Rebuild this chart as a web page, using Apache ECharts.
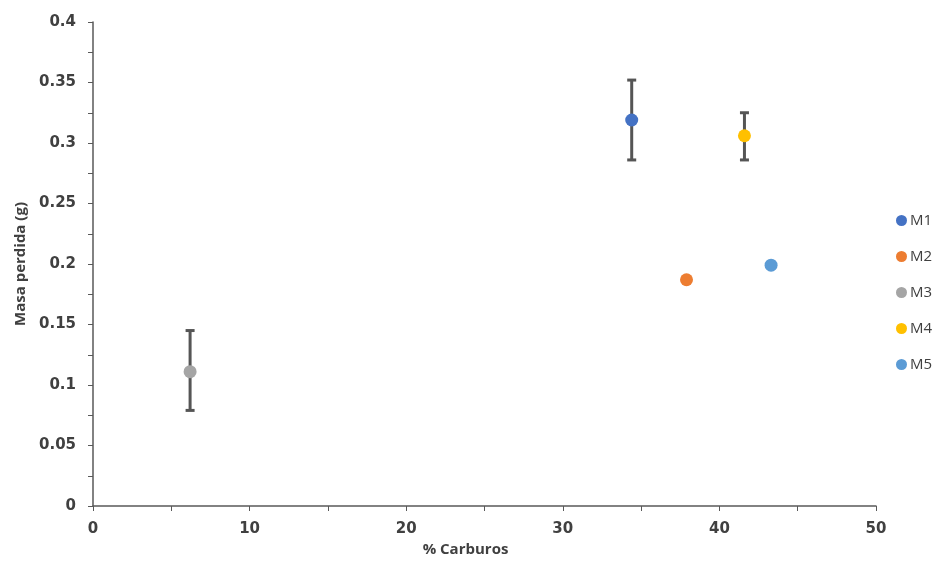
<!DOCTYPE html>
<html><head><meta charset="utf-8">
<script src="https://cdn.jsdelivr.net/npm/echarts@6/dist/echarts.min.js"></script>
<style>html,body{margin:0;padding:0;background:#fff}#c{width:936px;height:562px}</style>
</head><body><div id="c"></div>
<script>
const seriesNames = ['M1','M2','M3','M4','M5'];
const xValues = [34.4, 37.9, 6.2, 41.6, 43.3];
const yValues = [0.319, 0.187, 0.111, 0.306, 0.199];
const errLow = [0.286, null, 0.079, 0.286, null];
const errHigh = [0.352, null, 0.145, 0.325, null];
const colors = ['#4472C4','#ED7D31','#A5A5A5','#FFC000','#5B9BD5'];

const tickFont = '"DejaVu Sans", sans-serif';
const font = '"Open Sans", "Liberation Sans", sans-serif';
const axisColor = '#595959';
const textColor = '#404040';

const errData = [];
for (let i = 0; i < xValues.length; i++) {
  if (errLow[i] != null) errData.push([xValues[i], errLow[i], errHigh[i]]);
}

const series = seriesNames.map((n, i) => ({
  name: n, type: 'scatter', symbolSize: 13, z: 3,
  itemStyle: { color: colors[i], opacity: 1 },
  data: [[xValues[i], yValues[i]]]
}));
series.push({
  type: 'custom', z: 2, silent: true,
  data: errData,
  renderItem: function (params, api) {
    const x = api.value(0);
    const lo = api.coord([x, api.value(1)]);
    const hi = api.coord([x, api.value(2)]);
    const hw = 4.5;
    const style = { stroke: '#555555', lineWidth: 3 };
    return { type: 'group', children: [
      { type: 'line', shape: { x1: lo[0], y1: lo[1], x2: hi[0], y2: hi[1] }, style },
      { type: 'line', shape: { x1: lo[0]-hw, y1: lo[1], x2: lo[0]+hw, y2: lo[1] }, style },
      { type: 'line', shape: { x1: hi[0]-hw, y1: hi[1], x2: hi[0]+hw, y2: hi[1] }, style }
    ]};
  }
});

const chart = echarts.init(document.getElementById('c'));
chart.setOption({
  backgroundColor: '#fff',
  animation: false,
  grid: { left: 93, right: 60, top: 22, bottom: 56 },
  legend: {
    orient: 'vertical', left: 891, top: 208, itemGap: 21,
    icon: 'circle', itemWidth: 11, itemHeight: 11,
    data: seriesNames,
    textStyle: { fontFamily: font, fontSize: 15, color: textColor, padding: [0,0,0,-2] }
  },
  xAxis: {
    type: 'value', min: 0, max: 50, interval: 10,
    name: '% Carburos', nameLocation: 'middle', nameGap: 35,
    nameTextStyle: { fontFamily: font, fontSize: 15, fontWeight: 'bold', color: textColor, padding: [0, 38, 0, 0] },
    axisLine: { lineStyle: { color: axisColor, width: 1.5 } },
    axisTick: { show: true, length: 5, lineStyle: { color: axisColor } },
    minorTick: { show: true, splitNumber: 2, length: 5, lineStyle: { color: axisColor } },
    splitLine: { show: false },
    axisLabel: { fontFamily: tickFont, fontSize: 15, fontWeight: 'bold', color: textColor, margin: 16 }
  },
  yAxis: {
    type: 'value', min: 0, max: 0.4, interval: 0.05,
    name: 'Masa perdida (g)', nameLocation: 'middle', nameGap: 63, nameRotate: 90,
    nameTextStyle: { fontFamily: font, fontSize: 15, fontWeight: 'bold', color: textColor },
    axisLine: { show: true, lineStyle: { color: axisColor, width: 1.5 } },
    axisTick: { show: true, length: 5, lineStyle: { color: axisColor } },
    minorTick: { show: true, splitNumber: 2, length: 5, lineStyle: { color: axisColor } },
    splitLine: { show: false },
    axisLabel: { fontFamily: tickFont, fontSize: 15, fontWeight: 'bold', color: textColor, margin: 17,
      formatter: v => String(+v.toFixed(2)) }
  },
  series: series
});
</script></body></html>
